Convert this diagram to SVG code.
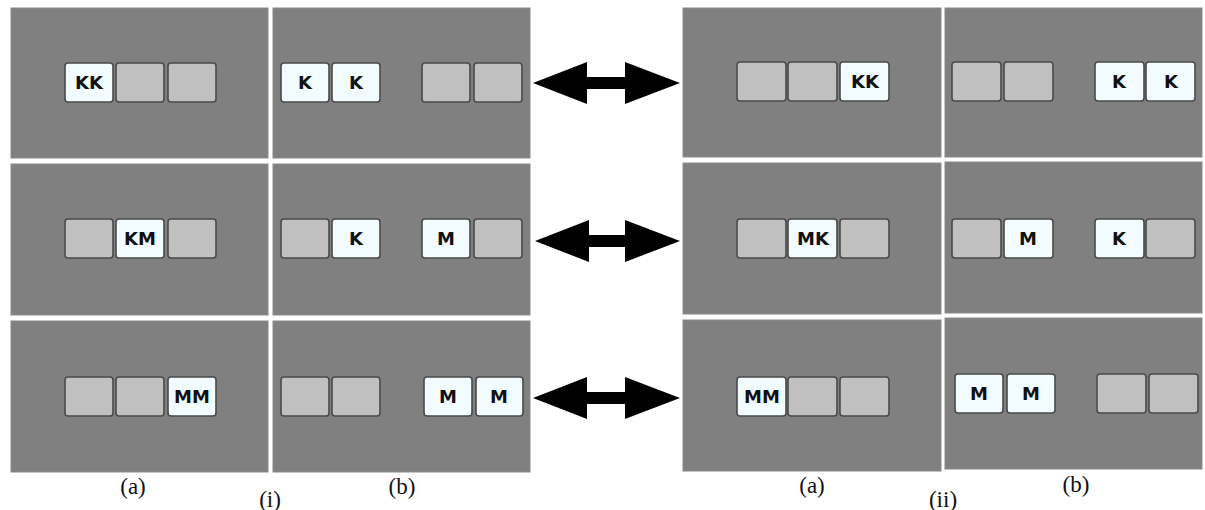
<svg xmlns="http://www.w3.org/2000/svg" width="1205" height="510" viewBox="0 0 1205 510">
<style>
.panel{fill:#808080;stroke:#8a8a8a;stroke-width:1}
.g{fill:#c0c0c0;stroke:#4a4a4a;stroke-width:1.6}
.w{fill:#f2fcff;stroke:#4a4a4a;stroke-width:1.6}
.t{font-family:"DejaVu Sans",sans-serif;font-weight:bold;font-size:18px;fill:#111;text-anchor:middle}
.lbl{font-family:"Liberation Serif",serif;font-size:23px;fill:#111;text-anchor:middle}
.arr{fill:#000}
</style>
<rect width="1205" height="510" fill="#fff"/>
<g id="panels">
<rect class="panel" x="11" y="8" width="257" height="150"/>
<rect class="panel" x="273" y="8" width="257" height="150"/>
<rect class="panel" x="11" y="164" width="257" height="151"/>
<rect class="panel" x="273" y="164" width="257" height="151"/>
<rect class="panel" x="11" y="321" width="257" height="151"/>
<rect class="panel" x="273" y="321" width="257" height="151"/>
<rect class="panel" x="683" y="8" width="258" height="149"/>
<rect class="panel" x="945" y="8" width="257" height="149"/>
<rect class="panel" x="683" y="163" width="258" height="151"/>
<rect class="panel" x="945" y="162" width="257" height="151"/>
<rect class="panel" x="683" y="320" width="258" height="151"/>
<rect class="panel" x="945" y="318" width="257" height="151"/>
</g>
<g id="row1">
<rect class="w" x="65" y="63" width="48" height="39" rx="3"/><text class="t" x="89" y="89">KK</text>
<rect class="g" x="116" y="63" width="48" height="39" rx="3"/>
<rect class="g" x="168" y="63" width="48" height="39" rx="3"/>
<rect class="w" x="281" y="63" width="48" height="39" rx="3"/><text class="t" x="305" y="89">K</text>
<rect class="w" x="332" y="63" width="48" height="39" rx="3"/><text class="t" x="356" y="89">K</text>
<rect class="g" x="422" y="63" width="48" height="39" rx="3"/>
<rect class="g" x="474" y="63" width="48" height="39" rx="3"/>
<rect class="g" x="737" y="62" width="49" height="39" rx="3"/>
<rect class="g" x="788" y="62" width="49" height="39" rx="3"/>
<rect class="w" x="840" y="62" width="49" height="39" rx="3"/><text class="t" x="865" y="88">KK</text>
<rect class="g" x="952" y="62" width="49" height="39" rx="3"/>
<rect class="g" x="1004" y="62" width="49" height="39" rx="3"/>
<rect class="w" x="1095" y="62" width="49" height="39" rx="3"/><text class="t" x="1119" y="88">K</text>
<rect class="w" x="1146" y="62" width="49" height="39" rx="3"/><text class="t" x="1171" y="88">K</text>
</g>
<g id="row2">
<rect class="g" x="65" y="219" width="48" height="39" rx="3"/>
<rect class="w" x="116" y="219" width="48" height="39" rx="3"/><text class="t" x="140" y="245">KM</text>
<rect class="g" x="168" y="219" width="48" height="39" rx="3"/>
<rect class="g" x="281" y="219" width="48" height="39" rx="3"/>
<rect class="w" x="332" y="219" width="48" height="39" rx="3"/><text class="t" x="356" y="245">K</text>
<rect class="w" x="422" y="219" width="48" height="39" rx="3"/><text class="t" x="446" y="245">M</text>
<rect class="g" x="474" y="219" width="48" height="39" rx="3"/>
<rect class="g" x="737" y="219" width="49" height="39" rx="3"/>
<rect class="w" x="788" y="219" width="49" height="39" rx="3"/><text class="t" x="813" y="245">MK</text>
<rect class="g" x="840" y="219" width="49" height="39" rx="3"/>
<rect class="g" x="952" y="219" width="49" height="39" rx="3"/>
<rect class="w" x="1004" y="219" width="49" height="39" rx="3"/><text class="t" x="1028" y="245">M</text>
<rect class="w" x="1095" y="219" width="49" height="39" rx="3"/><text class="t" x="1119" y="245">K</text>
<rect class="g" x="1146" y="219" width="49" height="39" rx="3"/>
</g>
<g id="row3">
<rect class="g" x="65" y="377" width="48" height="39" rx="3"/>
<rect class="g" x="116" y="377" width="48" height="39" rx="3"/>
<rect class="w" x="168" y="377" width="48" height="39" rx="3"/><text class="t" x="192" y="403">MM</text>
<rect class="g" x="281" y="377" width="48" height="39" rx="3"/>
<rect class="g" x="332" y="377" width="48" height="39" rx="3"/>
<rect class="w" x="424" y="377" width="48" height="39" rx="3"/><text class="t" x="448" y="403">M</text>
<rect class="w" x="476" y="377" width="47" height="39" rx="3"/><text class="t" x="499" y="403">M</text>
<rect class="w" x="737" y="377" width="49" height="39" rx="3"/><text class="t" x="762" y="403">MM</text>
<rect class="g" x="788" y="377" width="49" height="39" rx="3"/>
<rect class="g" x="840" y="377" width="49" height="39" rx="3"/>
<rect class="w" x="955" y="374" width="48" height="39" rx="3"/><text class="t" x="979" y="400">M</text>
<rect class="w" x="1007" y="374" width="48" height="39" rx="3"/><text class="t" x="1031" y="400">M</text>
<rect class="g" x="1097" y="374" width="49" height="39" rx="3"/>
<rect class="g" x="1149" y="374" width="49" height="39" rx="3"/>
</g>
<g id="connectors">
<polygon class="arr" points="533,83 587,62 587,77 625,77 625,62 680,83 625,104 625,89 587,89 587,104"/>
<polygon class="arr" points="535,241 589,220 589,235 625,235 625,220 680,241 625,262 625,247 589,247 589,262"/>
<polygon class="arr" points="533,398 587,377 587,392 625,392 625,377 680,398 625,419 625,404 587,404 587,419"/>
</g>
<g id="labels">
<text class="lbl" x="133" y="494">(a)</text>
<text class="lbl" x="402" y="494">(b)</text>
<text class="lbl" x="270" y="507">(i)</text>
<text class="lbl" x="812" y="493">(a)</text>
<text class="lbl" x="1076" y="492">(b)</text>
<text class="lbl" x="943" y="507">(ii)</text>
</g>
</svg>
